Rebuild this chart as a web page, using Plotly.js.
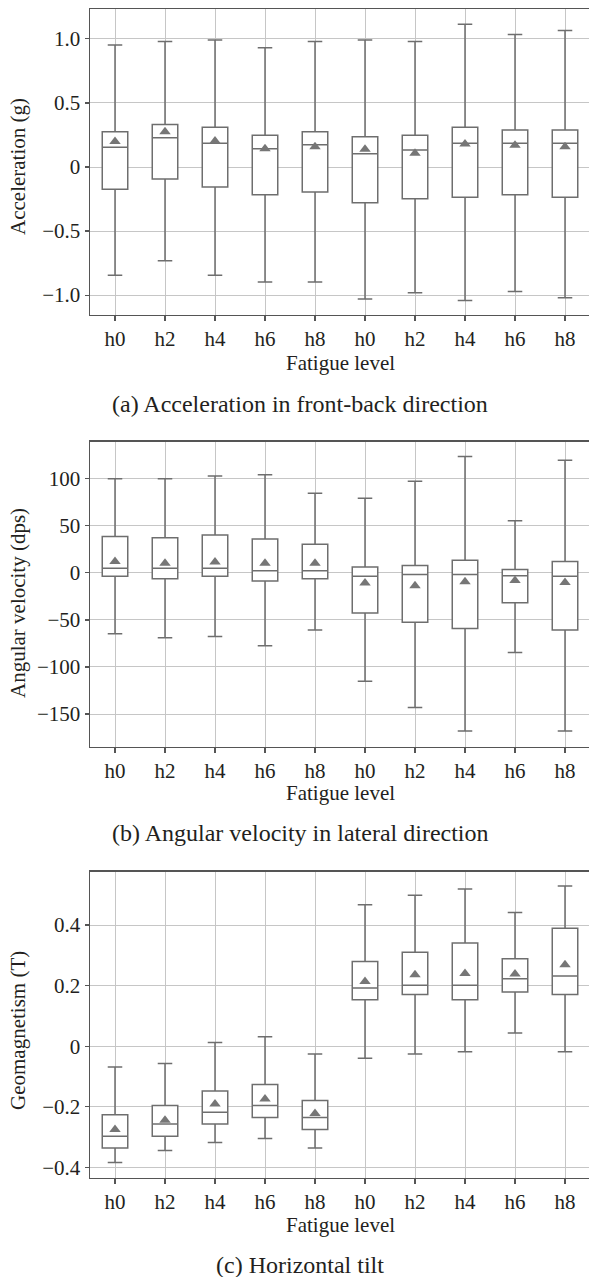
<!DOCTYPE html>
<html>
<head>
<meta charset="utf-8">
<script src="https://cdn.plot.ly/plotly-3.0.1.min.js"></script>
<style>
html,body{margin:0;padding:0;overflow:hidden;background:#fff;}
#chart{width:600px;height:1277px;}
</style>
</head>
<body>
<div id="chart"></div>
<script>
// ---- data ----
const categories = ["h0","h2","h4","h6","h8","h0","h2","h4","h6","h8"];

// (a) Acceleration in front-back direction (g)
const accLower  = [-0.846,-0.732,-0.846,-0.898,-0.898,-1.031,-0.982,-1.042,-0.971,-1.021];
const accQ1     = [-0.174,-0.094,-0.156,-0.216,-0.195,-0.279,-0.247,-0.237,-0.216,-0.237];
const accMedian = [0.154,0.229,0.185,0.143,0.174,0.104,0.133,0.185,0.185,0.185];
const accQ3     = [0.276,0.331,0.310,0.247,0.276,0.237,0.247,0.310,0.289,0.289];
const accUpper  = [0.953,0.979,0.992,0.930,0.979,0.992,0.979,1.115,1.034,1.065];
const accMean   = [0.200,0.276,0.203,0.143,0.159,0.138,0.107,0.180,0.169,0.159];

// (b) Angular velocity in lateral direction (dps)
const gyrLower  = [-64.8,-69.0,-67.6,-77.5,-60.6,-115.1,-143.0,-168.0,-84.5,-168.0];
const gyrQ1     = [-3.5,-6.3,-3.5,-8.8,-6.3,-42.6,-52.5,-59.2,-31.7,-60.6];
const gyrMedian = [4.9,4.9,4.9,2.1,2.1,-3.5,-1.8,-1.8,-3.2,-3.5];
const gyrQ3     = [38.7,37.3,40.1,35.9,30.3,6.3,7.7,13.4,3.5,12.0];
const gyrUpper  = [100.0,100.0,102.8,104.2,84.5,79.2,97.2,123.6,55.3,119.7];
const gyrMean   = [12.0,10.2,11.6,10.2,10.2,-10.9,-13.7,-9.5,-8.1,-10.2];

// (c) Horizontal tilt (T)
const magLower  = [-0.384,-0.344,-0.318,-0.305,-0.336,-0.040,-0.026,-0.018,0.044,-0.018];
const magQ1     = [-0.336,-0.297,-0.257,-0.235,-0.275,0.153,0.171,0.153,0.179,0.171];
const magMedian = [-0.297,-0.257,-0.218,-0.196,-0.235,0.192,0.201,0.201,0.223,0.232];
const magQ3     = [-0.226,-0.196,-0.148,-0.126,-0.179,0.280,0.310,0.341,0.289,0.389];
const magUpper  = [-0.069,-0.057,0.012,0.031,-0.026,0.467,0.498,0.519,0.441,0.529];
const magMean   = [-0.275,-0.244,-0.191,-0.174,-0.222,0.214,0.236,0.240,0.238,0.269];

const accTicks = [1.0,0.5,0,-0.5,-1.0];
const accTickText = ["1.0","0.5","0","\u22120.5","\u22121.0"];
const gyrTicks = [100,50,0,-50,-100,-150];
const gyrTickText = ["100","50","0","\u221250","\u2212100","\u2212150"];
const magTicks = [0.4,0.2,0,-0.2,-0.4];
const magTickText = ["0.4","0.2","0","\u22120.2","\u22120.4"];

const xTitle = "Fatigue level";
const yTitles = ["Acceleration (g)","Angular velocity (dps)","Geomagnetism (T)"];
const captions = ["(a) Acceleration in front-back direction","(b) Angular velocity in lateral direction","(c) Horizontal tilt"];

// ---- build ----
const positions = categories.map((c,i)=>i);
const FONT = "Liberation Serif";
const TXT = "#231f20";
const BOXC = "#6e6e6e";

function boxTrace(xa, ya, lo, q1, med, q3, hi){
  return {type:'box', xaxis:xa, yaxis:ya, x:positions,
    lowerfence:lo, q1:q1, median:med, q3:q3, upperfence:hi,
    boxpoints:false, width:0.51, whiskerwidth:0.57,
    fillcolor:'#ffffff', line:{color:BOXC, width:1.5},
    showlegend:false, hoverinfo:'skip'};
}
function meanTrace(xa, ya, m){
  return {type:'scatter', mode:'markers', xaxis:xa, yaxis:ya, x:positions, y:m,
    marker:{symbol:'triangle-up', size:10, color:'#767676', line:{width:0}},
    showlegend:false, hoverinfo:'skip'};
}

const data = [
  boxTrace('x','y', accLower, accQ1, accMedian, accQ3, accUpper),
  boxTrace('x2','y2', gyrLower, gyrQ1, gyrMedian, gyrQ3, gyrUpper),
  boxTrace('x3','y3', magLower, magQ1, magMedian, magQ3, magUpper),
  meanTrace('x','y', accMean),
  meanTrace('x2','y2', gyrMean),
  meanTrace('x3','y3', magMean)
];

const H = 1277;
const panels = [
  {top:9.3, bottom:314.7, range:[-1.153,1.231], tv:accTicks, tt:accTickText, fl:363, cap:404, yt:167},
  {top:441.7, bottom:746.7, range:[-184.7,139.3], tv:gyrTicks, tt:gyrTickText, fl:793, cap:833, yt:603},
  {top:871.7, bottom:1177.7, range:[-0.434,0.576], tv:magTicks, tt:magTickText, fl:1225, cap:1265, yt:1031}
];

const layout = {
  width:600, height:H,
  margin:{l:90, r:10, t:0, b:0},
  paper_bgcolor:'#fff', plot_bgcolor:'#fff',
  font:{family:FONT, size:21, color:TXT},
  showlegend:false, hovermode:false,
  annotations:[]
};
panels.forEach((p,i)=>{
  const sfx = i===0 ? '' : String(i+1);
  layout['xaxis'+sfx] = {
    anchor:'y'+sfx, domain:[0,1], range:[-0.5,9.5],
    tickmode:'array', tickvals:positions, ticktext:categories,
    showgrid:true, gridcolor:'#c6c6c6', gridwidth:1,
    showline:true, linecolor:'#555', linewidth:1.5, mirror:true,
    ticks:'outside', ticklen:5, tickcolor:'#555', tickwidth:1.2,
    zeroline:false, tickfont:{family:FONT, size:21, color:TXT}
  };
  layout['yaxis'+sfx] = {
    anchor:'x'+sfx, domain:[1-p.bottom/H, 1-p.top/H], range:p.range,
    tickmode:'array', tickvals:p.tv, ticktext:p.tt,
    showgrid:true, gridcolor:'#c6c6c6', gridwidth:1,
    showline:true, linecolor:'#555', linewidth:1.5, mirror:true,
    ticks:'outside', ticklen:4, tickcolor:'#555', tickwidth:1.2,
    zeroline:false, tickfont:{family:FONT, size:21, color:TXT}
  };
  layout.annotations.push({xref:'paper', yref:'paper', x:0.5, y:1-p.fl/H,
    xanchor:'center', yanchor:'middle', showarrow:false, text:xTitle,
    font:{family:FONT, size:21, color:TXT}});
  layout.annotations.push({xref:'paper', yref:'paper', x:(300-90)/500, y:1-p.cap/H,
    xanchor:'center', yanchor:'middle', showarrow:false, text:captions[i],
    font:{family:FONT, size:24, color:TXT}});
  layout.annotations.push({xref:'paper', yref:'paper', x:(18-90)/500, y:1-p.yt/H,
    xanchor:'center', yanchor:'middle', showarrow:false, text:yTitles[i], textangle:-90,
    font:{family:FONT, size:21, color:TXT}});
});

Plotly.newPlot('chart', data, layout, {displayModeBar:false, staticPlot:true});
</script>
</body>
</html>
